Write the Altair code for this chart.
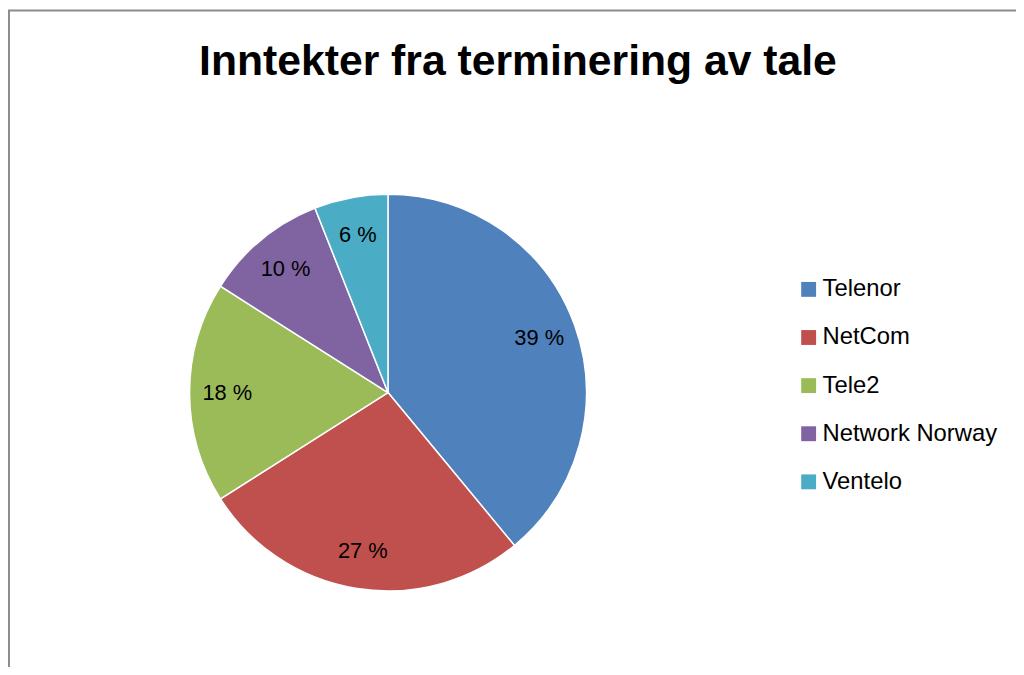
import altair as alt
import pandas as pd

companies = ["Telenor", "NetCom", "Tele2", "Network Norway", "Ventelo"]
shares = [39, 27, 18, 10, 6]
labels = ["39 %", "27 %", "18 %", "10 %", "6 %"]
colors = ["#4F81BD", "#C0504D", "#9BBB59", "#8064A2", "#4BACC6"]
title_text = "Inntekter fra terminering av tale"

df = pd.DataFrame({
    "company": companies,
    "share": shares,
    "label": labels,
    "idx": list(range(len(companies))),
})

FONT = "Liberation Sans"
CX, CY = 383, 385

base = alt.Chart(df).encode(
    theta=alt.Theta("share:Q", stack=True),
    order=alt.Order("idx:Q"),
)

pie = base.mark_arc(
    radius=200, stroke="white", strokeWidth=1.5
).encode(
    x=alt.value(CX),
    y=alt.value(CY),
    color=alt.Color(
        "company:N",
        scale=alt.Scale(domain=companies, range=colors),
        sort=companies,
        legend=alt.Legend(
            title=None,
            orient="none",
            legendX=795,
            legendY=269,
            symbolType="square",
            symbolSize=225,
            symbolStrokeWidth=0,
            labelFont=FONT,
            labelFontSize=24,
            labelColor="black",
            labelOffset=2,
            rowPadding=24.5,
            padding=0,
            labelLimit=400,
        ),
    ),
)

text = base.mark_text(
    radius=162, font=FONT, fontSize=22, color="black"
).encode(
    x=alt.value(CX),
    y=alt.value(CY),
    text="label:N",
)

one = pd.DataFrame({"t": [title_text]})
title = alt.Chart(one).mark_text(
    font=FONT, fontSize=43, fontWeight="bold", color="black",
    align="center", baseline="alphabetic"
).encode(x=alt.value(514), y=alt.value(65), text="t:N")

left_rule = alt.Chart(one).mark_rule(color="#8c8c8c", strokeWidth=2).encode(
    x=alt.value(1), y=alt.value(0), y2=alt.value(700)
)
top_rule = alt.Chart(one).mark_rule(color="#8c8c8c", strokeWidth=2).encode(
    x=alt.value(0), x2=alt.value(1100), y=alt.value(0)
)

chart = alt.layer(pie, text, title, left_rule, top_rule).properties(
    width=1016,
    height=659,
    padding=0,
    autosize=alt.AutoSizeParams(type="none"),
).configure(background="white").configure_view(stroke=None)

chart.save("out.html", embed_options={"renderer": "svg", "actions": False})
